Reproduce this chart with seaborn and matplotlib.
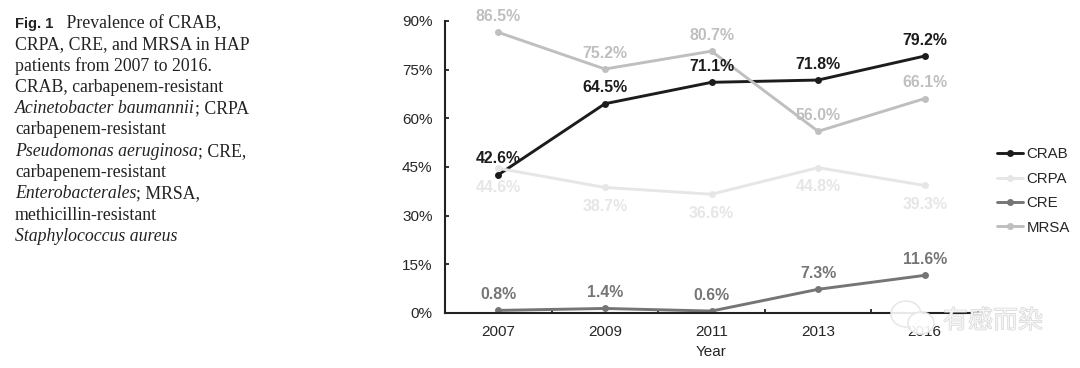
import matplotlib
matplotlib.use("Agg")
import matplotlib.pyplot as plt
import matplotlib.patheffects as pe
import pandas as pd
import seaborn as sns
from matplotlib.patches import Ellipse

years = ["2007", "2009", "2011", "2013", "2016"]
crab = [42.6, 64.5, 71.1, 71.8, 79.2]
crpa = [44.6, 38.7, 36.6, 44.8, 39.3]
cre = [0.8, 1.4, 0.6, 7.3, 11.6]
mrsa = [86.5, 75.2, 80.7, 56.0, 66.1]
series_names = ["CRAB", "CRPA", "CRE", "MRSA"]
series_values = [crab, crpa, cre, mrsa]
series_colors = ["#1c1c1c", "#e6e6e6", "#757575", "#bfbfbf"]
label_offsets = [6, -19, 6, 6]
y_ticks = [0, 15, 30, 45, 60, 75, 90]

sns.set_theme(style="white")
plt.rcParams["font.family"] = ["Liberation Sans", "DejaVu Sans"]

W, H = 1080, 368
fig = plt.figure(figsize=(W / 100, H / 100), dpi=100)
ax = fig.add_axes([445 / W, 1 - 313 / H, (978 - 445) / W, (313 - 21) / H])

rows = [(n, y, v) for n, vals in zip(series_names, series_values) for y, v in zip(years, vals)]
df = pd.DataFrame(rows, columns=["series", "Year", "value"])
sns.lineplot(data=df, x="Year", y="value", hue="series", hue_order=series_names,
             palette=dict(zip(series_names, series_colors)), marker="o", markersize=5,
             markeredgewidth=0, linewidth=2.1, sort=False, ax=ax)

ax.set_xlim(-0.5, 4.5)
ax.set_ylim(0, 90)
ax.set_yticks(y_ticks, [f"{t}%" for t in y_ticks])
ax.set_xticks(range(len(years)), years)
ax.set_xticks([i - 0.5 for i in range(len(years) + 1)], minor=True)
ax.tick_params(axis="x", which="major", length=0, pad=9, labelsize=11, colors="#262626")
ax.tick_params(axis="x", which="minor", length=3, width=1.3, direction="in", color="#222222", bottom=True)
ax.tick_params(axis="y", length=3, width=1.3, direction="in", pad=9, labelsize=11,
               colors="#262626", color="#222222", left=True)
for s in ("top", "right"):
    ax.spines[s].set_visible(False)
for s in ("left", "bottom"):
    ax.spines[s].set_linewidth(1.5)
    ax.spines[s].set_color("#222222")
ax.set_xlabel("Year", fontsize=11, color="#262626", labelpad=4)
ax.set_ylabel("")

for vals, col, off in zip(series_values, series_colors, label_offsets):
    for i, v in enumerate(vals):
        ax.annotate(f"{v:.1f}%", (i, v), xytext=(0, off), textcoords="offset points",
                    ha="center", va="bottom",
                    fontsize=11.4, fontweight="bold", color=col, annotation_clip=False)

handles, labels = ax.get_legend_handles_labels()
ax.legend(handles, labels, loc="center left", bbox_to_anchor=(997 / W, 1 - 191 / H),
          bbox_transform=fig.transFigure, frameon=False, fontsize=10.8, labelspacing=0.69,
          handlelength=1.75, handletextpad=0.2, borderpad=0, borderaxespad=0, labelcolor="#262626")

# Caption on the left, one entry per printed line: (text, kind) runs
caption = [
    [("Fig. 1", "bold"), ("   Prevalence of CRAB,", "normal")],
    [("CRPA, CRE, and MRSA in HAP", "normal")],
    [("patients from 2007 to 2016.", "normal")],
    [("CRAB, carbapenem-resistant", "normal")],
    [("Acinetobacter baumannii", "italic"), ("; CRPA", "normal")],
    [("carbapenem-resistant", "normal")],
    [("Pseudomonas aeruginosa", "italic"), ("; CRE,", "normal")],
    [("carbapenem-resistant", "normal")],
    [("Enterobacterales", "italic"), ("; MRSA,", "normal")],
    [("methicillin-resistant", "normal")],
    [("Staphylococcus aureus", "italic")],
]
renderer = fig.canvas.get_renderer()
for li, runs in enumerate(caption):
    x = 15.0
    y = 28 + li * 21.3
    for txt, kind in runs:
        kw = dict(family="Liberation Serif", fontsize=12.8, color="#222222")
        if kind == "bold":
            kw = dict(family="Liberation Sans", fontsize=10.6, fontweight="bold", color="#222222")
        elif kind == "italic":
            kw["style"] = "italic"
        t = fig.text(x / W, 1 - y / H, txt, ha="left", va="baseline", **kw)
        x = t.get_window_extent(renderer).x1

# Watermark over the lower right corner
wm = "#e6e6e6"
for cx, cy, w, h in [(906, 314, 30, 26), (921, 323, 26, 22)]:
    fig.add_artist(Ellipse((cx / W, 1 - cy / H), w / W, h / H, transform=fig.transFigure,
                           facecolor="white", edgecolor=wm, linewidth=1.2, alpha=0.9, zorder=5))
fig.text(943 / W, 1 - 321 / H, "有感而染", family=["Noto Sans CJK SC", "DejaVu Sans"], fontsize=18,
         color="#f4f4f4", va="center", ha="left", zorder=6,
         path_effects=[pe.withStroke(linewidth=0.8, foreground="#d2d2d2")])

fig.savefig("out.png", dpi=100)
